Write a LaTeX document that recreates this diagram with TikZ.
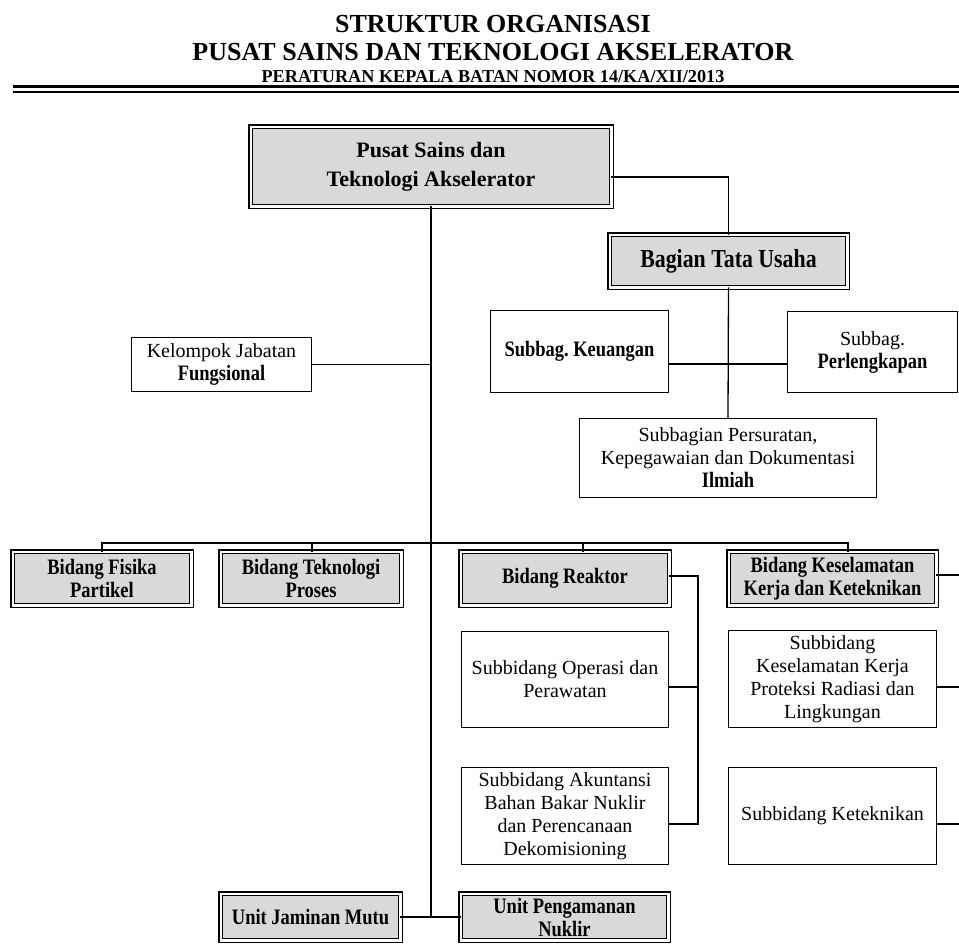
\documentclass[tikz,border=0pt]{standalone}
\usepackage{fontspec}
\setmainfont{Liberation Serif}
\newfontfamily\tallfont{Liberation Serif}[FakeStretch=0.84]
\usetikzlibrary{positioning,calc}
\definecolor{orggray}{HTML}{D9D9D9}
\newcommand{\rg}{\fontsize{20}{23}\selectfont\mdseries\frenchspacing}
\newcommand{\bd}{\tallfont\fontsize{22}{23}\selectfont\bfseries\frenchspacing}
\newcommand{\hd}{\fontsize{22}{29}\selectfont\bfseries}
\newcommand{\hdt}{\tallfont\fontsize{26}{29}\selectfont\bfseries}
\tikzset{
  unitbox/.style ={draw=black, line width=1.3pt, fill=white, inner sep=0pt, align=center, font=\rg},
  headbox/.style ={unitbox, fill=orggray, double=white, double distance=2.2pt, line width=1.4pt, font=\bd},
  topbox/.style  ={headbox, font=\hd},
  link/.style    ={line width=1.3pt, line cap=rect},
  ttl/.style     ={anchor=base, inner sep=0pt},
}

\begin{document}
\begin{tikzpicture}[x=1pt,y=-1pt]
  \useasboundingbox (0,0) rectangle (959,945);
  % heading
  \node[ttl, font=\fontsize{26}{30}\selectfont\bfseries] (t1) at (493,32) {STRUKTUR ORGANISASI};
  \node[ttl, font=\fontsize{26}{30}\selectfont\bfseries] (t2) at (493,60) {PUSAT SAINS DAN TEKNOLOGI AKSELERATOR};
  \node[ttl, font=\fontsize{18.2}{22}\selectfont\bfseries] (t3) at (493,82) {PERATURAN KEPALA BATAN NOMOR 14/KA/XII/2013};
  \draw[line width=2.5pt] (13,86.5) -- (959,86.5);
  \draw[line width=1.5pt] (13,92) -- (959,92);

  % boxes
  \node[topbox, minimum width=360.8pt, minimum height=79.8pt] (pst) at (431,166.5) {Pusat Sains dan\\Teknologi Akselerator};
  \node[topbox, font=\hdt, minimum width=237.8pt, minimum height=52.8pt] (btu) at (728.5,261) {Bagian Tata Usaha};
  \node[unitbox, font=\bd, minimum width=177.7pt, minimum height=81.7pt] (keu) at (579.5,351.5) {Subbag. Keuangan};
  \node[unitbox, minimum width=169.7pt, minimum height=80.7pt] (lkp) at (872.5,352) {Subbag.\\\bd Perlengkapan};
  \node[unitbox, minimum width=296.7pt, minimum height=78.7pt] (srt) at (728,458) {Subbagian Persuratan,\\Kepegawaian dan Dokumentasi\\\bd Ilmiah};
  \node[unitbox, minimum width=179.7pt, minimum height=53.7pt] (jaf) at (221.5,364.5) {Kelompok Jabatan\\\bd Fungsional};

  \node[headbox, minimum width=178.8pt, minimum height=53.8pt] (fis) at (102,578.5) {Bidang Fisika\\Partikel};
  \node[headbox, minimum width=180.8pt, minimum height=53.8pt] (prs) at (311,578.5) {Bidang Teknologi\\Proses};
  \node[headbox, minimum width=208.8pt, minimum height=53.8pt] (rkt) at (565,578.5) {Bidang Reaktor};
  \node[headbox, minimum width=207.8pt, minimum height=53.8pt] (kkk) at (832.5,578.5) {Bidang Keselamatan\\Kerja dan Keteknikan};

  \node[unitbox, minimum width=206.7pt, minimum height=95.7pt] (ops) at (565,679.5) {Subbidang Operasi dan\\Perawatan};
  \node[unitbox, minimum width=206.7pt, minimum height=96.7pt] (akt) at (565,816) {Subbidang Akuntansi\\Bahan Bakar Nuklir\\dan Perencanaan\\Dekomisioning};
  \node[unitbox, minimum width=207.7pt, minimum height=96.7pt] (kps) at (832.5,679) {Subbidang\\Keselamatan Kerja\\Proteksi Radiasi dan\\Lingkungan};
  \node[unitbox, minimum width=207.7pt, minimum height=96.7pt] (tkn) at (832.5,816) {Subbidang Keteknikan};

  \node[headbox, minimum width=179.8pt, minimum height=46.8pt] (mtu) at (310.5,917) {Unit Jaminan Mutu};
  \node[headbox, minimum width=207.8pt, minimum height=46.8pt] (amn) at (564.5,917) {Unit Pengamanan\\Nuklir};

  % connectors
  \coordinate (trunk) at (431,917);
  \coordinate (bus) at (431,543);
  \coordinate (rspine) at (698,576);
  \coordinate (rbot) at (698,824);
  \coordinate (redge) at (959,0);
  \draw[link] (pst.south) -- (trunk);
  \draw[link] (mtu.east) -- (amn.west);
  \draw[link] ($(pst.east)+(0,10.5)$) -| (btu.north);
  \draw[link] (btu.south) -- (srt.north);
  \draw[link] ($(keu.east)+(0,12.5)$) coordinate (kj) -- (kj -| lkp.west);
  \draw[link] (jaf.east) -- (jaf.east -| trunk);
  \foreach \b/\dx in {fis/0,prs/1,rkt/18,kkk/15.5}
    \draw[link] ($(\b.north)+(\dx,0)$) |- (bus);
  \foreach \b/\dy in {rkt/-2.5,ops/7.5,akt/8}
    \draw[link] ($(\b.east)+(0,\dy)$) coordinate (s) -- (s -| rspine);
  \draw[link] (rspine) -- (rbot);
  \foreach \b/\dy in {kkk/-3.5,kps/8,tkn/8}
    \draw[link] ($(\b.east)+(0,\dy)$) coordinate (s) -- (s -| redge);
\end{tikzpicture}
\end{document}
